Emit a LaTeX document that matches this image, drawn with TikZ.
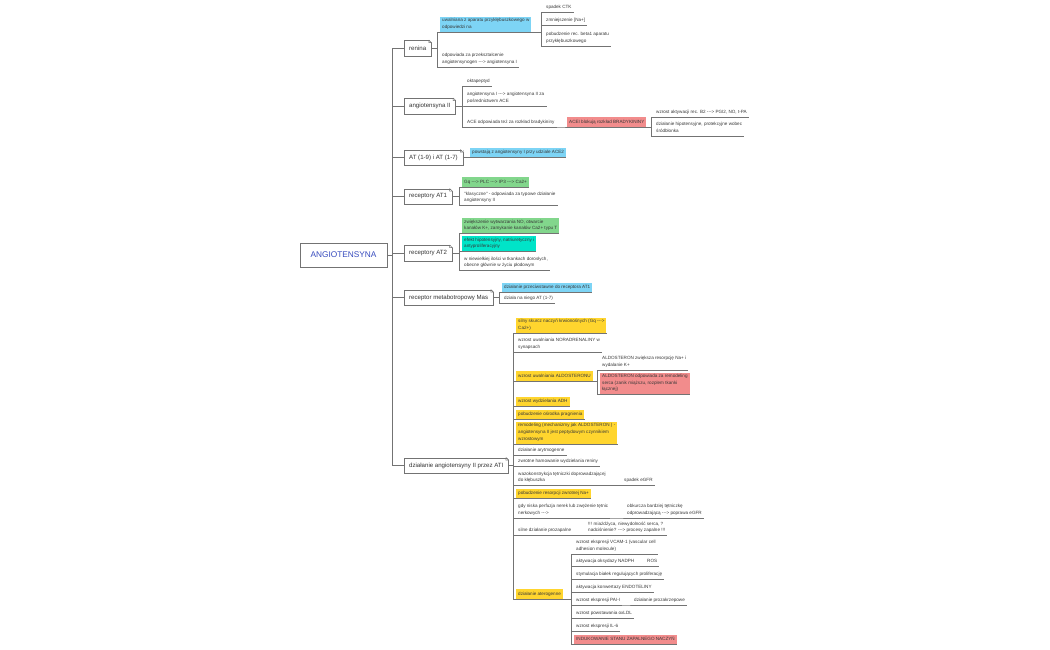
\documentclass[tikz,border=0pt]{standalone}
\usepackage{fontspec}
\setmainfont{Liberation Sans}[Ligatures=TeXOff]
\usetikzlibrary{calc,shadows}
\definecolor{mmblue}{RGB}{125,212,245}
\definecolor{mmred}{RGB}{242,140,140}
\definecolor{mmgreen}{RGB}{130,214,140}
\definecolor{mmteal}{RGB}{0,228,200}
\definecolor{mmyellow}{RGB}{255,213,46}
\definecolor{mmline}{RGB}{115,115,115}
\definecolor{mmroot}{RGB}{55,75,190}
\newcommand\rootfnt{\fontsize{8.3}{10}\selectfont}
\newcommand\topicfnt{\fontsize{6.1}{7}\selectfont}
\newcommand\subfnt{\fontsize{4.6}{6.7}\selectfont}
\newcommand\branch[3][3]{\draw[link] (#2) -| ($(#3.south west)+(-#1,0)$) -- (#3.south west);}
\newcommand\dogear[1]{%
  \fill[white] ($(#1.north east)+(-2.6,-0.6)$) -- ($(#1.north east)+(0.6,-0.6)$) -- ($(#1.north east)+(0.6,2.6)$) -- cycle;
  \draw[link] ($(#1.north east)+(-2.6,0)$) -- ($(#1.north east)+(0,2.6)$)
              ($(#1.north east)+(-2.6,0)$) |- ($(#1.north east)+(0,2.6)$);}

\begin{document}
\begin{tikzpicture}[
        x=1pt, y=-1pt,
        link/.style={draw=mmline, line width=.5pt},
        uline/.style={draw=mmline, line width=.5pt},
        root/.style={draw=mmline, fill=white, minimum width=87pt, minimum height=24pt,
            font=\rootfnt, text=mmroot,
            drop shadow={shadow xshift=1.2pt, shadow yshift=-1.2pt, opacity=.35}},
        topic/.style={draw=mmline, fill=white, anchor=west, minimum height=15.5pt,
            inner xsep=5pt, font=\topicfnt, text=black!80,
            drop shadow={shadow xshift=.8pt, shadow yshift=-.8pt, opacity=.3}},
        sub/.style={anchor=south west, align=left, inner xsep=2pt, inner ysep=1.5pt,
            font=\subfnt, text=black!78,
            execute at begin node=\strut, execute at end node=\strut,
            append after command={(\tikzlastnode.south west) edge[uline] (\tikzlastnode.south east)}},
        cbox/.style={sub, fill=#1},
    ]
    \useasboundingbox (0,0) rectangle (1050,650);

    \node[root] (root) at (343.5,255) {ANGIOTENSYNA};

    \node[topic] (renina) at (404,48) {renina};
    \node[topic] (angII) at (404,106) {angiotensyna II};
    \node[topic] (at17) at (404,157.5) {AT (1-9) i AT (1-7)};
    \node[topic] (at1) at (404,196.5) {receptory AT1};
    \node[topic] (at2) at (404,253) {receptory AT2};
    \node[topic] (mas) at (404,297.5) {receptor metabotropowy Mas};
    \node[topic] (dzial) at (404,465.5) {działanie angiotensyny II przez ATI};
    \foreach \t in {renina,angII,at17,at1,at2,mas,dzial}{
        \draw[link] (root.east) -| ($(\t.west)+(-12,0)$) -- (\t.west);
        \dogear{\t}
    }

    % renina
    \node[cbox=mmblue] (ren_a) at (440,32) {uwalniana z aparatu przykłębuszkowego w\\odpowiedzi na};
    \node[sub] (ren_b) at (440,67) {odpowiada za przekształcenie\\angiotensynogen ---> angiotensyna I};
    \node[sub] (ctk) at (544,12.5) {spadek CTK};
    \node[sub] (na) at (544,25.5) {zmniejszenie [Na+]};
    \node[sub] (beta) at (544,46) {pobudzenie rec. beta1 aparatu\\przykłębuszkowego};
    \branch{renina.east}{ren_a}
    \branch{renina.east}{ren_b}
    \branch{ren_a.south east}{ctk}
    \branch{ren_a.south east}{na}
    \branch{ren_a.south east}{beta}

    % angiotensyna II
    \node[sub] (okta) at (465,86) {oktapeptyd};
    \node[sub] (ace) at (465,106) {angiotensyna I ---> angiotensyna II za\\pośrednictwem ACE};
    \node[sub] (brady) at (465,127) {ACE odpowiada też za rozkład bradykininy};
    \node[cbox=mmred] (acei) at (567,127) {ACEI blokują rozkład BRADYKININY};
    \node[sub] (b2) at (654,117) {wzrost aktywacji rec. B2 ---> PGI2, NO, t-PA};
    \node[sub] (hipo) at (654,136) {działanie hipotensyjne, protekcyjne wobec\\śródbłonka};
    \branch{angII.east}{okta}
    \branch{angII.east}{ace}
    \branch{angII.east}{brady}
    \branch{brady.south east}{acei}
    \branch{acei.south east}{b2}
    \branch{acei.south east}{hipo}

    % AT (1-9), AT1, AT2, Mas
    \node[cbox=mmblue] (ace2) at (470,157.5) {powstają z angiotensyny I przy udziale ACE2};
    \branch{at17.east}{ace2}

    \node[cbox=mmgreen] (gq) at (462,187) {Gq ---> PLC ---> IP3 ---> Ca2+};
    \node[sub] (klas) at (462,205.5) {"klasyczne" - odpowiada za typowe działanie\\angiotensyny II};
    \branch{at1.east}{gq}
    \branch{at1.east}{klas}

    \node[cbox=mmgreen] (no) at (462,233.5) {zwiększenie wytwarzania NO, otwarcie\\kanałów K+, zamykanie kanałów Ca2+ typu T};
    \node[cbox=mmteal] (efekt) at (462,251.5) {efekt hipotensyjny, natriuretyczny i\\antyproliferacyjny};
    \node[sub] (plod) at (462,270.5) {w niewielkiej ilości w tkankach dorosłych,\\obecne głównie w życiu płodowym};
    \branch{at2.east}{no}
    \branch{at2.east}{efekt}
    \branch{at2.east}{plod}

    \node[cbox=mmblue] (przec) at (502,292.5) {działanie przeciwstawne do receptora AT1};
    \node[sub] (dziala) at (502,303.5) {działa na niego AT (1-7)};
    \branch{mas.east}{przec}
    \branch{mas.east}{dziala}

    % dzialanie przez AT1
    \node[cbox=mmyellow] (skurcz) at (516,333) {silny skurcz naczyń krwionośnych (Gq --->\\Ca2+)};
    \node[sub] (nor) at (516,352) {wzrost uwalniania NORADRENALINY w\\synapsach};
    \node[cbox=mmyellow] (aldo) at (516,381) {wzrost uwalniania ALDOSTERONU};
    \node[sub] (aldo_a) at (600,370) {ALDOSTERON zwiększa resorpcję Na+ i\\wydalanie K+};
    \node[cbox=mmred] (aldo_b) at (600,394.5) {ALDOSTERON odpowiada za remodeling\\serca (zanik miąższu, rozplem tkanki\\łącznej)};
    \node[cbox=mmyellow] (adh) at (516,406.5) {wzrost wydzielania ADH};
    \node[cbox=mmyellow] (prag) at (516,419.5) {pobudzenie ośrodka pragnienia};
    \node[cbox=mmyellow] (remo) at (516,444) {remodeling (mechanizmy jak ALDOSTERON ) -\\angiotensyna II jest peptydowym czynnikiem\\wzrostowym};
    \node[sub] (aryt) at (516,455) {działanie arytmogenne};
    \node[sub] (hamo) at (516,466.5) {zwrotne hamowanie wydzielania reniny};
    \node[sub] (wazo) at (516,485.5) {wazokonstrykcja tętniczki doprowadzającej\\do kłębuszka};
    \node[sub] (egfr) at (622,485.5) {spadek eGFR};
    \node[cbox=mmyellow] (resor) at (516,498.5) {pobudzenie resorpcji zwrotnej Na+};
    \node[sub] (perf) at (516,518) {gdy niska perfuzja nerek lub zwężenie tętnic\\nerkowych --->};
    \node[sub] (obk) at (625,518) {obkurcza bardziej tętniczkę\\odprowadzającą ---> poprawa eGFR};
    \node[sub] (zapal) at (516,535.5) {silne działanie prozapalne};
    \node[sub] (miaz) at (586,535.5) {!!! miażdżyca, niewydolność serca, ?\\nadciśnienie? ---> procesy zapalne !!!};
    \node[cbox=mmyellow] (ater) at (516,599) {działanie aterogenne};
    \foreach \c in {skurcz,nor,aldo,adh,prag,remo,aryt,hamo,wazo,resor,perf,zapal,ater}
        \branch{dzial.east}{\c};
    \branch{aldo.south east}{aldo_a}
    \branch{aldo.south east}{aldo_b}
    \branch{wazo.south east}{egfr}
    \branch{perf.south east}{obk}
    \branch{zapal.south east}{miaz}

    % dzialanie aterogenne
    \node[sub] (vcam) at (574,554) {wzrost ekspresji VCAM-1 (vascular cell\\adhesion molecule)};
    \node[sub] (nadph) at (574,566.5) {aktywacja oksydazy NADPH};
    \node[sub] (ros) at (645,566.5) {ROS};
    \node[sub] (stym) at (574,579) {stymulacja białek regulujących proliferację};
    \node[sub] (endo) at (574,592) {aktywacja konwertazy ENDOTELINY};
    \node[sub] (pai) at (574,605) {wzrost ekspresji PAI-I};
    \node[sub] (zakrz) at (632,605) {działanie prozakrzepowe};
    \node[sub] (oxldl) at (574,618) {wzrost powstawania oxLDL};
    \node[sub] (il6) at (574,631) {wzrost ekspresji IL-6};
    \node[cbox=mmred] (indz) at (574,644.5) {INDUKOWANIE STANU ZAPALNEGO NACZYŃ};
    \foreach \c in {vcam,nadph,stym,endo,pai,oxldl,il6,indz}
        \branch{ater.south east}{\c};
    \branch{nadph.south east}{ros}
    \branch{pai.south east}{zakrz}

\end{tikzpicture}
\end{document}
